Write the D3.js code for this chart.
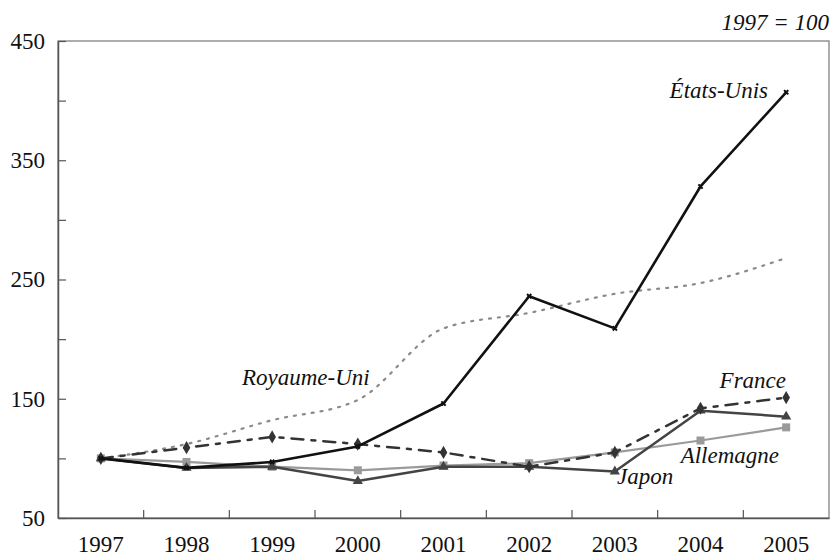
<!DOCTYPE html>
<html>
<head>
<meta charset="utf-8">
<script src="https://cdn.jsdelivr.net/npm/d3@7"></script>
</head>
<body style="margin:0">
<script>
const w = 831
const h = 557
const serifFont = 'Liberation Serif, Tinos, Times New Roman, serif'
const years = ['1997', '1998', '1999', '2000', '2001', '2002', '2003', '2004', '2005']
const yTicks = [50, 100, 150, 200, 250, 300, 350, 400, 450]
const yLabels = [50, 150, 250, 350, 450]

const etatsUnis = [100, 92, 97, 110, 146, 236, 209, 328, 407]
const royaumeUni = [100, 112, 132, 149, 209, 222, 238, 247, 268]
const france = [100, 109, 118, 112, 105, 93, 105, 142, 151]
const allemagne = [100, 97, 93, 90, 94, 96, 105, 115, 126]
const japon = [100, 92, 93, 81, 93, 93, 89, 140, 135]

const series = [
  { name: 'Royaume-Uni', values: royaumeUni, color: '#8a8a8a', width: 2.2, dash: '2,7', marker: null, smooth: true },
  { name: 'Allemagne', values: allemagne, color: '#9a9a9a', width: 2.2, dash: null, marker: 'square' },
  { name: 'Japon', values: japon, color: '#444', width: 2.5, dash: null, marker: 'triangle' },
  { name: 'France', values: france, color: '#333', width: 2.5, dash: '12,8,4,8', marker: 'diamond' },
  { name: 'États-Unis', values: etatsUnis, color: '#111', width: 2.6, dash: null, marker: 'cross' }
]

const labels = [
  { text: 'États-Unis', x: 768, y: 98, anchor: 'end' },
  { text: 'Royaume-Uni', x: 242, y: 385, anchor: 'start' },
  { text: 'France', x: 786, y: 388, anchor: 'end' },
  { text: 'Allemagne', x: 779, y: 463, anchor: 'end' },
  { text: 'Japon', x: 617, y: 484, anchor: 'start' }
]

const serif = (sel) => sel.attr('font-family', serifFont)
  .style('font-family', serifFont, 'important').style('font-size', '23px', 'important')

const svg = d3.select('body').append('svg').attr('width', w).attr('height', h)

const xScale = d3.scaleBand().domain(years).range([58, 829])
const yScale = d3.scaleLinear().domain([50, 450]).range([518, 41])
const xc = (i) => xScale(years[i]) + xScale.bandwidth() / 2

// frame
svg.append('rect').attr('x', 58).attr('y', 41).attr('width', 829 - 58).attr('height', 518 - 41)
  .attr('fill', 'none').attr('stroke', '#777').attr('stroke-width', 1.2)

// y axis
const leftAxis = d3.axisLeft(yScale).tickValues(yTicks).tickSizeInner(-8).tickSizeOuter(0)
  .tickFormat((d) => yLabels.includes(d) ? d : '')
const gy = svg.append('g').attr('transform', 'translate(58,0)').call(leftAxis)
gy.select('.domain').attr('stroke', '#555').attr('stroke-width', 1.5)
gy.selectAll('line').attr('stroke', '#555').attr('stroke-width', 1.2)
gy.selectAll('text').attr('x', -13).attr('fill', '#111').call(serif)

// x axis
const bottomAxis = d3.axisBottom(xScale).tickSize(0).tickPadding(18)
const gx = svg.append('g').attr('transform', 'translate(0,518)').call(bottomAxis)
gx.select('.domain').attr('stroke', '#555').attr('stroke-width', 1.5)
gx.selectAll('text').attr('fill', '#111').call(serif)
gx.selectAll('.sep').data(years.slice(1)).enter().append('line')
  .attr('x1', (d) => xScale(d)).attr('x2', (d) => xScale(d))
  .attr('y1', 0).attr('y2', -8).attr('stroke', '#555').attr('stroke-width', 1.2)

// lines
const line = d3.line().x((d, i) => xc(i)).y((d) => yScale(d))
const smoothLine = d3.line().x((d, i) => xc(i)).y((d) => yScale(d)).curve(d3.curveMonotoneX)

series.forEach((s) => {
  svg.append('path').datum(s.values).attr('d', s.smooth ? smoothLine : line)
    .attr('fill', 'none').attr('stroke', s.color).attr('stroke-width', s.width)
    .attr('stroke-dasharray', s.dash).attr('stroke-linecap', s.dash ? 'round' : 'butt')
    .attr('stroke-linejoin', 'round')
  if (!s.marker) return
  const g = svg.append('g')
  s.values.forEach((v, i) => {
    const x = xc(i), y = yScale(v)
    if (s.marker === 'square') {
      g.append('rect').attr('x', x - 4).attr('y', y - 4).attr('width', 8).attr('height', 8).attr('fill', s.color)
    } else if (s.marker === 'triangle') {
      g.append('path').attr('d', d3.symbol(d3.symbolTriangle, 45)()).attr('transform', `translate(${x},${y})`).attr('fill', s.color)
    } else if (s.marker === 'diamond') {
      g.append('path').attr('d', d3.symbol(d3.symbolDiamond, 50)()).attr('transform', `translate(${x},${y})`).attr('fill', s.color)
    } else if (s.marker === 'cross') {
      g.append('path').attr('d', d3.symbol(d3.symbolCross, 20)()).attr('transform', `translate(${x},${y}) rotate(45)`).attr('fill', s.color)
    }
  })
})

// series labels
labels.forEach((d) => {
  svg.append('text').attr('x', d.x).attr('y', d.y).attr('text-anchor', d.anchor)
    .attr('font-style', 'italic').attr('fill', '#111').text(d.text).call(serif)
})

svg.append('text').attr('x', 829).attr('y', 30).attr('text-anchor', 'end')
  .attr('font-style', 'italic').attr('fill', '#111').text('1997 = 100').call(serif)
</script>
</body>
</html>
